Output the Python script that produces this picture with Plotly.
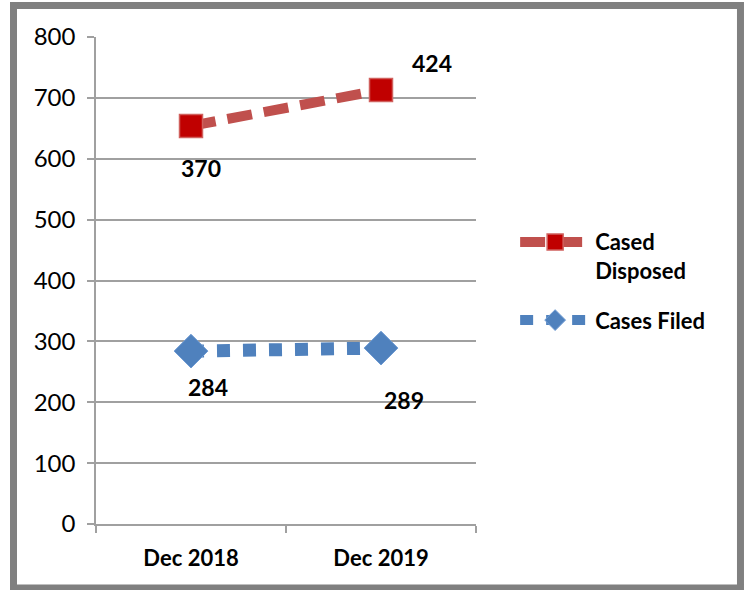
import numpy as np
import plotly.graph_objects as go

categories = ["Dec 2018", "Dec 2019"]
cases_filed = [284, 289]
cased_disposed = [370, 424]
y_ticks = [0, 100, 200, 300, 400, 500, 600, 700, 800]

# stacked line chart: disposed series sits on top of filed series
disposed_stacked = list(np.array(cases_filed) + np.array(cased_disposed))

# label offsets (pixels) for data labels: (xshift, yshift)
filed_label_shift = [(17, -36), (23, -52)]
disposed_label_shift = [(10, -42), (51, 27)]

FONT = "Lato, Calibri, 'Open Sans', sans-serif"
GRID = "#A0A0A0"

fig = go.Figure()

fig.add_trace(go.Scatter(
    x=categories, y=disposed_stacked, mode="lines+markers",
    name="<b>Cased<br>Disposed</b>", legendgroup="disposed",
    line=dict(color="#C0504D", width=10, dash="25px,12px"),
    marker=dict(symbol="square", size=23, color="#C00000",
                line=dict(color="#D0605D", width=1.5)),
))

fig.add_trace(go.Scatter(
    x=categories, y=cases_filed, mode="lines+markers",
    name="<b>Cases Filed</b>", legendgroup="filed",
    line=dict(color="#4F81BD", width=13, dash="13px,13px"),
    marker=dict(symbol="diamond", size=26, color="#4F81BD",
                line=dict(color="#6F9BD3", width=1)),
))

annotations = []
for cat, val, lab, (dx, dy) in zip(categories, disposed_stacked, cased_disposed, disposed_label_shift):
    annotations.append(dict(x=cat, y=val, text=f"<b>{lab}</b>", showarrow=False,
                            xshift=dx, yshift=dy,
                            font=dict(family=FONT, size=23, color="black")))
for cat, val, (dx, dy) in zip(categories, cases_filed, filed_label_shift):
    annotations.append(dict(x=cat, y=val, text=f"<b>{val}</b>", showarrow=False,
                            xshift=dx, yshift=dy,
                            font=dict(family=FONT, size=23, color="black")))

fig.update_layout(
    width=747, height=590,
    margin=dict(l=96, r=271, t=37, b=66),
    paper_bgcolor="white", plot_bgcolor="white",
    font=dict(family=FONT, size=23, color="black"),
    showlegend=True,
    legend=dict(x=1.103, y=0.622, xanchor="left", yanchor="top",
                font=dict(family=FONT, size=22, color="black"),
                valign="top", itemwidth=70, bgcolor="rgba(0,0,0,0)",
                traceorder="grouped", tracegroupgap=18),
    annotations=annotations,
    shapes=[dict(type="rect", xref="paper", yref="paper",
                 x0=-0.2171, x1=1.696, y0=-0.1314, y1=1.0647,
                 line=dict(color="#808080", width=7), layer="below")],
)

fig.update_xaxes(
    type="category", categoryorder="array", categoryarray=categories,
    range=[-0.5, 1.5], tickson="boundaries", ticks="outside", ticklen=7,
    tickcolor=GRID, tickwidth=1.5,
    showline=True, linecolor=GRID, linewidth=1.5, showgrid=False,
    tickfont=dict(family=FONT, size=22, color="black"),
    ticktext=[f"<b>{c}</b>" for c in categories], tickvals=categories,
    ticklabelstandoff=14,
)
fig.update_yaxes(
    range=[0, 800], tickvals=y_ticks, ticks="outside", ticklen=7,
    tickcolor=GRID, tickwidth=1.5,
    showline=True, linecolor=GRID, linewidth=1.5,
    showgrid=True, gridcolor=GRID, gridwidth=1.5, zeroline=False,
    tickfont=dict(family=FONT, size=24, color="black"),
    ticklabelstandoff=7,
)

fig.write_html("out.html", config={"displayModeBar": False},
               post_script="document.body.style.margin='0';")
